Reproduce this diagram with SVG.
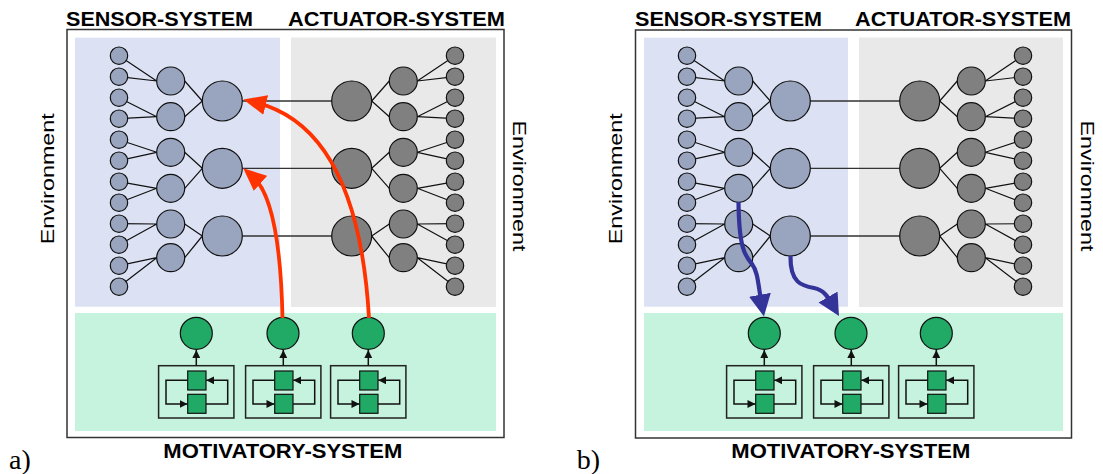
<svg xmlns="http://www.w3.org/2000/svg" xmlns:xlink="http://www.w3.org/1999/xlink" width="1103" height="474" viewBox="0 0 1103 474">
<style>
.frame{fill:#fff;stroke:#333;stroke-width:1.5}
.sbg{fill:#dce2f3}
.abg{fill:#e9e9e9}
.mbg{fill:#c6f3dd}
.sc{fill:#99a4bf;stroke:#111;stroke-width:1.2}
.ac{fill:#808080;stroke:#111;stroke-width:1.2}
.gc{fill:#21aa66;stroke:#111;stroke-width:1.2}
.sq{fill:#21aa66;stroke:#111;stroke-width:1.2}
.box{fill:none;stroke:#222;stroke-width:1.5}
.edge{fill:none;stroke:#111;stroke-width:1.2}
.hl{fill:none;stroke:#333;stroke-width:1.3}
.loop{fill:none;stroke:#111;stroke-width:1.5;marker-end:url(#ah)}
.red{fill:none;stroke:#ff3300;stroke-width:3.8;marker-end:url(#rh)}
.blue{fill:none;stroke:#333399;stroke-width:4.2;marker-end:url(#bh)}
.title{font-family:"Liberation Sans",Arial,sans-serif;font-weight:bold;font-size:20px;fill:#000}
.env{font-family:"Liberation Sans",Arial,sans-serif;font-size:17.5px;fill:#000}
.lab{font-family:"Liberation Serif","Times New Roman",serif;font-size:28px;fill:#000}
</style>
<defs>
<marker id="ah" markerUnits="userSpaceOnUse" markerWidth="8" markerHeight="8" viewBox="0 0 8 8" refX="8" refY="4" orient="auto"><path d="M0,0L8,4L0,8z" fill="#111"/></marker>
<marker id="rh" markerUnits="userSpaceOnUse" markerWidth="23" markerHeight="20" viewBox="0 0 23 20" refX="10" refY="10" orient="auto"><path d="M0,0L23,10L0,20z" fill="#ff3300"/></marker>
<marker id="bh" markerUnits="userSpaceOnUse" markerWidth="22" markerHeight="22" viewBox="0 0 22 22" refX="9" refY="11" orient="auto"><path d="M0,0L22,11L0,22z" fill="#333399"/></marker>
<g id="mod">
<rect class="box" x="-37.7" y="365.7" width="75.3" height="52.3"/>
<path class="loop" d="M0 365.7V350"/>
<path class="loop" d="M-8.6 380.3H-30.3V404H-8.8"/>
<path class="loop" d="M9.7 404H31.4V380.3H9.9"/>
<rect class="sq" x="-8.6" y="371" width="18.3" height="19"/>
<rect class="sq" x="-8.6" y="394.3" width="18.3" height="19"/>
</g>
<path id="sedges" d="M119 55.7L156.7 81M119 76.7L156.7 81M119 97.7L156.7 116.7M119 118.7L156.7 116.7M119 139.7L156.7 152.3M119 160.7L156.7 152.3M119 181.7L156.7 188.3M119 202.7L156.7 188.3M119 223.7L156.7 224M119 244.7L156.7 224M119 265.7L156.7 257.7M119 286.7L156.7 257.7M184.7 81L202.3 101M184.7 116.7L202.3 101M184.7 152.3L202.3 168.3M184.7 188.3L202.3 168.3M184.7 224L202.3 236M184.7 257.7L202.3 236"/>
<path id="aedges" d="M455 55.7L417.3 81M455 76.7L417.3 81M455 97.7L417.3 116.7M455 118.7L417.3 116.7M455 139.7L417.3 152.3M455 160.7L417.3 152.3M455 181.7L417.3 188.3M455 202.7L417.3 188.3M455 223.7L417.3 224M455 244.7L417.3 224M455 265.7L417.3 257.7M455 286.7L417.3 257.7M389.3 81L371.7 101M389.3 116.7L371.7 101M389.3 152.3L371.7 168.3M389.3 188.3L371.7 168.3M389.3 224L371.7 236M389.3 257.7L371.7 236"/>
</defs>

<!-- ============ PANEL A ============ -->
<g id="panel-a">
<rect class="frame" x="67" y="29.5" width="437" height="408"/>
<rect class="sbg" x="75" y="37.7" width="205" height="269"/>
<rect class="abg" x="291" y="37.5" width="205" height="269.5"/>
<rect class="mbg" x="75" y="313" width="421" height="118"/>
<text class="title" x="66" y="26" textLength="187" lengthAdjust="spacingAndGlyphs">SENSOR-SYSTEM</text>
<text class="title" x="288" y="26" textLength="217" lengthAdjust="spacingAndGlyphs">ACTUATOR-SYSTEM</text>
<text class="title" x="163.3" y="458.3" textLength="239" lengthAdjust="spacingAndGlyphs">MOTIVATORY-SYSTEM</text>
<text class="env" transform="translate(53.5,178.7) rotate(-90)" text-anchor="middle" textLength="131" lengthAdjust="spacingAndGlyphs">Environment</text>
<text class="env" transform="translate(512.5,186) rotate(90)" text-anchor="middle" textLength="131" lengthAdjust="spacingAndGlyphs">Environment</text>
<text class="lab" x="9" y="469">a)</text>

<g id="a-connectors-edges">
<use href="#sedges" class="edge"/>
<use href="#aedges" class="edge"/>
<path class="hl" d="M242.3 101H331.7M242.3 168.3H331.7M242.3 236H331.7"/>
</g>

<g id="a-sensor-nodes">
<g id="a-s-in1"><circle class="sc" cx="119" cy="55.7" r="8.7"/></g>
<g id="a-s-in2"><circle class="sc" cx="119" cy="76.7" r="8.7"/></g>
<g id="a-s-in3"><circle class="sc" cx="119" cy="97.7" r="8.7"/></g>
<g id="a-s-in4"><circle class="sc" cx="119" cy="118.7" r="8.7"/></g>
<g id="a-s-in5"><circle class="sc" cx="119" cy="139.7" r="8.7"/></g>
<g id="a-s-in6"><circle class="sc" cx="119" cy="160.7" r="8.7"/></g>
<g id="a-s-in7"><circle class="sc" cx="119" cy="181.7" r="8.7"/></g>
<g id="a-s-in8"><circle class="sc" cx="119" cy="202.7" r="8.7"/></g>
<g id="a-s-in9"><circle class="sc" cx="119" cy="223.7" r="8.7"/></g>
<g id="a-s-in10"><circle class="sc" cx="119" cy="244.7" r="8.7"/></g>
<g id="a-s-in11"><circle class="sc" cx="119" cy="265.7" r="8.7"/></g>
<g id="a-s-in12"><circle class="sc" cx="119" cy="286.7" r="8.7"/></g>
<g id="a-s-mid1"><circle class="sc" cx="170.7" cy="81" r="14"/></g>
<g id="a-s-mid2"><circle class="sc" cx="170.7" cy="116.7" r="14"/></g>
<g id="a-s-mid3"><circle class="sc" cx="170.7" cy="152.3" r="14"/></g>
<g id="a-s-mid4"><circle class="sc" cx="170.7" cy="188.3" r="14"/></g>
<g id="a-s-mid5"><circle class="sc" cx="170.7" cy="224" r="14"/></g>
<g id="a-s-mid6"><circle class="sc" cx="170.7" cy="257.7" r="14"/></g>
<g id="a-s-out1"><circle class="sc" cx="222.3" cy="101" r="20"/></g>
<g id="a-s-out2"><circle class="sc" cx="222.3" cy="168.3" r="20"/></g>
<g id="a-s-out3"><circle class="sc" cx="222.3" cy="236" r="20"/></g>
</g>

<g id="a-actuator-nodes">
<g id="a-a-in1"><circle class="ac" cx="351.7" cy="101" r="20"/></g>
<g id="a-a-in2"><circle class="ac" cx="351.7" cy="168.3" r="20"/></g>
<g id="a-a-in3"><circle class="ac" cx="351.7" cy="236" r="20"/></g>
<g id="a-a-mid1"><circle class="ac" cx="403.3" cy="81" r="14"/></g>
<g id="a-a-mid2"><circle class="ac" cx="403.3" cy="116.7" r="14"/></g>
<g id="a-a-mid3"><circle class="ac" cx="403.3" cy="152.3" r="14"/></g>
<g id="a-a-mid4"><circle class="ac" cx="403.3" cy="188.3" r="14"/></g>
<g id="a-a-mid5"><circle class="ac" cx="403.3" cy="224" r="14"/></g>
<g id="a-a-mid6"><circle class="ac" cx="403.3" cy="257.7" r="14"/></g>
<g id="a-a-out1"><circle class="ac" cx="455" cy="55.7" r="8.7"/></g>
<g id="a-a-out2"><circle class="ac" cx="455" cy="76.7" r="8.7"/></g>
<g id="a-a-out3"><circle class="ac" cx="455" cy="97.7" r="8.7"/></g>
<g id="a-a-out4"><circle class="ac" cx="455" cy="118.7" r="8.7"/></g>
<g id="a-a-out5"><circle class="ac" cx="455" cy="139.7" r="8.7"/></g>
<g id="a-a-out6"><circle class="ac" cx="455" cy="160.7" r="8.7"/></g>
<g id="a-a-out7"><circle class="ac" cx="455" cy="181.7" r="8.7"/></g>
<g id="a-a-out8"><circle class="ac" cx="455" cy="202.7" r="8.7"/></g>
<g id="a-a-out9"><circle class="ac" cx="455" cy="223.7" r="8.7"/></g>
<g id="a-a-out10"><circle class="ac" cx="455" cy="244.7" r="8.7"/></g>
<g id="a-a-out11"><circle class="ac" cx="455" cy="265.7" r="8.7"/></g>
<g id="a-a-out12"><circle class="ac" cx="455" cy="286.7" r="8.7"/></g>
</g>

<g id="a-motivatory-nodes">
<g id="a-m1"><circle class="gc" cx="196.3" cy="333.3" r="16"/></g>
<g id="a-m2"><circle class="gc" cx="283" cy="333.3" r="16"/></g>
<g id="a-m3"><circle class="gc" cx="368.3" cy="333.3" r="16"/></g>
<g id="a-mbox1"><use href="#mod" x="196.3"/></g>
<g id="a-mbox2"><use href="#mod" x="283.3"/></g>
<g id="a-mbox3"><use href="#mod" x="368.3"/></g>
</g>

<g id="a-connectors-arrows">
<path class="red" d="M369 318Q358 128 256 102.6"/>
<path class="red" d="M282.5 318Q280 200.6 253 176.8"/>
</g>
</g>

<!-- ============ PANEL B ============ -->
<g id="panel-b" transform="translate(568,0)">
<rect class="frame" x="67.5" y="30" width="436" height="408"/>
<rect class="sbg" x="76" y="37.7" width="204" height="269"/>
<rect class="abg" x="291" y="37.5" width="204" height="269.5"/>
<rect class="mbg" x="76" y="313" width="419" height="118"/>
<text class="title" x="67" y="26" textLength="187" lengthAdjust="spacingAndGlyphs">SENSOR-SYSTEM</text>
<text class="title" x="287" y="26" textLength="216" lengthAdjust="spacingAndGlyphs">ACTUATOR-SYSTEM</text>
<text class="title" x="163.3" y="458.3" textLength="239" lengthAdjust="spacingAndGlyphs">MOTIVATORY-SYSTEM</text>
<text class="env" transform="translate(53.5,178.7) rotate(-90)" text-anchor="middle" textLength="131" lengthAdjust="spacingAndGlyphs">Environment</text>
<text class="env" transform="translate(512.5,186) rotate(90)" text-anchor="middle" textLength="131" lengthAdjust="spacingAndGlyphs">Environment</text>
<text class="lab" x="8.7" y="469">b)</text>

<g id="b-connectors-edges">
<use href="#sedges" class="edge"/>
<use href="#aedges" class="edge"/>
<path class="hl" d="M242.3 101H331.7M242.3 168.3H331.7M242.3 236H331.7"/>
</g>

<g id="b-sensor-nodes">
<g id="b-s-in1"><circle class="sc" cx="119" cy="55.7" r="8.7"/></g>
<g id="b-s-in2"><circle class="sc" cx="119" cy="76.7" r="8.7"/></g>
<g id="b-s-in3"><circle class="sc" cx="119" cy="97.7" r="8.7"/></g>
<g id="b-s-in4"><circle class="sc" cx="119" cy="118.7" r="8.7"/></g>
<g id="b-s-in5"><circle class="sc" cx="119" cy="139.7" r="8.7"/></g>
<g id="b-s-in6"><circle class="sc" cx="119" cy="160.7" r="8.7"/></g>
<g id="b-s-in7"><circle class="sc" cx="119" cy="181.7" r="8.7"/></g>
<g id="b-s-in8"><circle class="sc" cx="119" cy="202.7" r="8.7"/></g>
<g id="b-s-in9"><circle class="sc" cx="119" cy="223.7" r="8.7"/></g>
<g id="b-s-in10"><circle class="sc" cx="119" cy="244.7" r="8.7"/></g>
<g id="b-s-in11"><circle class="sc" cx="119" cy="265.7" r="8.7"/></g>
<g id="b-s-in12"><circle class="sc" cx="119" cy="286.7" r="8.7"/></g>
<g id="b-s-mid1"><circle class="sc" cx="170.7" cy="81" r="14"/></g>
<g id="b-s-mid2"><circle class="sc" cx="170.7" cy="116.7" r="14"/></g>
<g id="b-s-mid3"><circle class="sc" cx="170.7" cy="152.3" r="14"/></g>
<g id="b-s-mid4"><circle class="sc" cx="170.7" cy="188.3" r="14"/></g>
<g id="b-s-mid5"><circle class="sc" cx="170.7" cy="224" r="14"/></g>
<g id="b-s-mid6"><circle class="sc" cx="170.7" cy="257.7" r="14"/></g>
<g id="b-s-out1"><circle class="sc" cx="222.3" cy="101" r="20"/></g>
<g id="b-s-out2"><circle class="sc" cx="222.3" cy="168.3" r="20"/></g>
<g id="b-s-out3"><circle class="sc" cx="222.3" cy="236" r="20"/></g>
</g>

<g id="b-actuator-nodes">
<g id="b-a-in1"><circle class="ac" cx="351.7" cy="101" r="20"/></g>
<g id="b-a-in2"><circle class="ac" cx="351.7" cy="168.3" r="20"/></g>
<g id="b-a-in3"><circle class="ac" cx="351.7" cy="236" r="20"/></g>
<g id="b-a-mid1"><circle class="ac" cx="403.3" cy="81" r="14"/></g>
<g id="b-a-mid2"><circle class="ac" cx="403.3" cy="116.7" r="14"/></g>
<g id="b-a-mid3"><circle class="ac" cx="403.3" cy="152.3" r="14"/></g>
<g id="b-a-mid4"><circle class="ac" cx="403.3" cy="188.3" r="14"/></g>
<g id="b-a-mid5"><circle class="ac" cx="403.3" cy="224" r="14"/></g>
<g id="b-a-mid6"><circle class="ac" cx="403.3" cy="257.7" r="14"/></g>
<g id="b-a-out1"><circle class="ac" cx="455" cy="55.7" r="8.7"/></g>
<g id="b-a-out2"><circle class="ac" cx="455" cy="76.7" r="8.7"/></g>
<g id="b-a-out3"><circle class="ac" cx="455" cy="97.7" r="8.7"/></g>
<g id="b-a-out4"><circle class="ac" cx="455" cy="118.7" r="8.7"/></g>
<g id="b-a-out5"><circle class="ac" cx="455" cy="139.7" r="8.7"/></g>
<g id="b-a-out6"><circle class="ac" cx="455" cy="160.7" r="8.7"/></g>
<g id="b-a-out7"><circle class="ac" cx="455" cy="181.7" r="8.7"/></g>
<g id="b-a-out8"><circle class="ac" cx="455" cy="202.7" r="8.7"/></g>
<g id="b-a-out9"><circle class="ac" cx="455" cy="223.7" r="8.7"/></g>
<g id="b-a-out10"><circle class="ac" cx="455" cy="244.7" r="8.7"/></g>
<g id="b-a-out11"><circle class="ac" cx="455" cy="265.7" r="8.7"/></g>
<g id="b-a-out12"><circle class="ac" cx="455" cy="286.7" r="8.7"/></g>
</g>

<g id="b-motivatory-nodes">
<g id="b-m1"><circle class="gc" cx="196.3" cy="333.3" r="16"/></g>
<g id="b-m2"><circle class="gc" cx="283" cy="333.3" r="16"/></g>
<g id="b-m3"><circle class="gc" cx="368.3" cy="333.3" r="16"/></g>
<g id="b-mbox1"><use href="#mod" x="196.3"/></g>
<g id="b-mbox2"><use href="#mod" x="283.3"/></g>
<g id="b-mbox3"><use href="#mod" x="368.3"/></g>
</g>

<g id="b-connectors-arrows">
<path class="blue" d="M170.5 202C171 248 177 256 184 264C190 272 190 284 193.6 303.6"/>
<path class="blue" d="M222.5 256C222 283 234 286 246 288C256 290 260 297 264.5 304.8"/>
</g>
</g>
</svg>
